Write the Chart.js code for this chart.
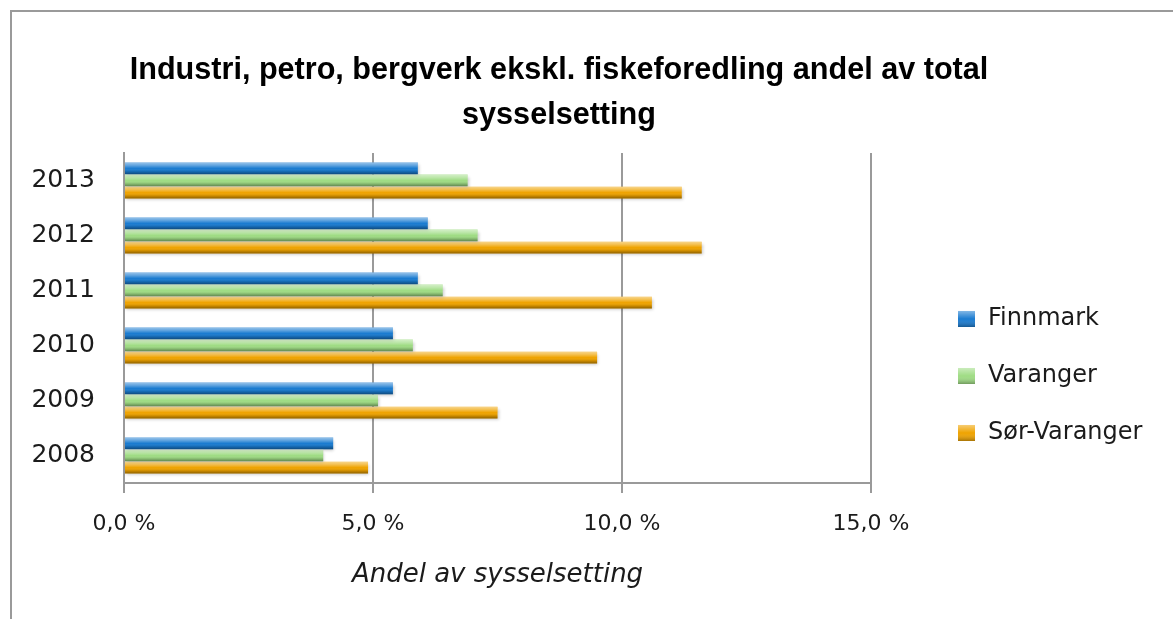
<!DOCTYPE html>
<html>
<head>
<meta charset="utf-8">
<title>Industri andel av sysselsetting</title>
<script src="https://cdn.jsdelivr.net/npm/chart.js@4.4.1/dist/chart.umd.min.js"></script>
<style>
  html, body { margin: 0; padding: 0; background: #fff; }
  #wrap { position: relative; width: 1173px; height: 619px; overflow: hidden; }
  #frame { position: absolute; left: 10px; top: 10px; width: 1300px; height: 700px;
           border-left: 2px solid #9a9a9a; border-top: 2px solid #9a9a9a; }
  canvas { position: absolute; left: 0; top: 0; }
</style>
</head>
<body>
<div id="wrap">
  <div id="frame"></div>
  <canvas id="chartIndustri"></canvas>
</div>
<script>
/* ==================== DATA ==================== */
const years = ["2008", "2009", "2010", "2011", "2012", "2013"];
const finnmark = [4.2, 5.4, 5.4, 5.9, 6.1, 5.9];
const varanger = [4.0, 5.1, 5.8, 6.4, 7.1, 6.9];
const sorVaranger = [4.9, 7.5, 9.5, 10.6, 11.6, 11.2];
const xTicks = [0, 5, 10, 15];
const titleLines = [
  "Industri, petro, bergverk ekskl. fiskeforedling andel av total",
  "sysselsetting",
];
const axisTitle = "Andel av sysselsetting";

const colors = ["#1a7bd0", "#9fdc84", "#efa300"];
const textColor = "#1b1b1b";
const gridColor = "#9a9a9a";

Chart.defaults.font.family = "'DejaVu Sans', Verdana, sans-serif";

/* ==================== PLUGINS ==================== */
// glossy look on the bars + light drop shadow
const barShine = {
  id: "barShine",
  beforeDatasetDraw(chart) {
    const ctx = chart.ctx;
    ctx.save();
    ctx.shadowColor = "rgba(0,0,0,0.22)";
    ctx.shadowBlur = 3;
    ctx.shadowOffsetY = 2;
    ctx.shadowOffsetX = 1;
  },
  afterDatasetDraw(chart) {
    chart.ctx.restore();
  },
  afterDatasetsDraw(chart) {
    const ctx = chart.ctx;
    ctx.save();
    chart.data.datasets.forEach((ds, i) => {
      chart.getDatasetMeta(i).data.forEach((bar) => {
        const top = bar.y - bar.height / 2;
        const h = bar.height;
        const g = ctx.createLinearGradient(0, top, 0, top + h);
        g.addColorStop(0, "rgba(255,255,255,0.55)");
        g.addColorStop(0.25, "rgba(255,255,255,0.3)");
        g.addColorStop(0.5, "rgba(255,255,255,0)");
        g.addColorStop(0.75, "rgba(0,0,0,0.12)");
        g.addColorStop(1, "rgba(0,0,0,0.4)");
        ctx.fillStyle = g;
        ctx.fillRect(bar.base, top, bar.x - bar.base, h);
      });
    });
    ctx.restore();
  },
};

// legend to the right of the plot, like the original
const sideLegend = {
  id: "sideLegend",
  afterDraw(chart) {
    const ctx = chart.ctx;
    const area = chart.chartArea;
    const x0 = area.right + 87;
    const y0 = (area.top + area.bottom) / 2 + 1;
    ctx.save();
    chart.data.datasets.forEach((ds, i) => {
      const y = y0 + i * 57;
      const g = ctx.createLinearGradient(0, y - 8, 0, y + 8);
      g.addColorStop(0, "rgba(255,255,255,0.45)");
      g.addColorStop(0.5, "rgba(255,255,255,0)");
      g.addColorStop(1, "rgba(0,0,0,0.3)");
      ctx.fillStyle = ds.backgroundColor;
      ctx.fillRect(x0, y - 8, 17, 16);
      ctx.fillStyle = g;
      ctx.fillRect(x0, y - 8, 17, 16);
      ctx.fillStyle = textColor;
      ctx.font = "24px 'DejaVu Sans', Verdana, sans-serif";
      ctx.textBaseline = "middle";
      ctx.textAlign = "left";
      ctx.fillText(ds.label, x0 + 30, y);
    });
    ctx.restore();
  },
};

// the title is centred on the whole chart object, not on the plot
const titleShift = {
  id: "titleShift",
  afterLayout(chart) {
    const t = chart.titleBlock;
    t.left = 100;
    t.right = 1018;
  },
};

/* ==================== CHART ==================== */
const ctxBar = document.getElementById("chartIndustri");
new Chart(ctxBar, {
  type: "bar",
  data: {
    labels: years,
    datasets: [
      { label: "Finnmark", data: finnmark, backgroundColor: colors[0] },
      { label: "Varanger", data: varanger, backgroundColor: colors[1] },
      { label: "Sør-Varanger", data: sorVaranger, backgroundColor: colors[2] },
    ],
  },
  options: {
    indexAxis: "y",
    responsive: true,
    maintainAspectRatio: false,
    animation: false,
    categoryPercentage: 0.66,
    barPercentage: 0.97,
    layout: { padding: { left: 0, right: 302, top: 0, bottom: 0 } },
    plugins: {
      legend: { display: false },
      tooltip: { enabled: false },
      title: {
        display: true,
        text: titleLines,
        color: "#000",
        font: { family: "'Liberation Sans', Arial, sans-serif", size: 30.6, weight: "bold", lineHeight: 1.47 },
        padding: { top: 48, bottom: 15 },
      },
    },
    scales: {
      x: {
        type: "linear",
        position: "bottom",
        min: xTicks[0],
        max: xTicks[xTicks.length - 1],
        afterBuildTicks: (scale) => {
          scale.ticks = xTicks.map((v) => ({ value: v }));
        },
        afterFit: (scale) => {
          scale.height = 136;
        },
        ticks: {
          padding: 18,
          color: textColor,
          font: { size: 22 },
          callback: (value) => value.toFixed(1).replace(".", ",") + " %",
        },
        grid: { color: gridColor, lineWidth: 2, drawTicks: true, tickLength: 10, tickColor: gridColor },
        border: { display: true, color: gridColor, width: 2 },
        title: {
          display: true,
          text: axisTitle,
          color: textColor,
          font: { size: 26, style: "italic" },
          padding: { top: 0, bottom: 28 },
        },
      },
      y: {
        type: "category",
        reverse: true,
        afterFit: (scale) => {
          scale.width = 124;
        },
        ticks: { padding: 29, color: textColor, font: { size: 25 } },
        grid: { display: false, drawTicks: false },
        border: { display: true, color: gridColor, width: 2 },
      },
    },
  },
  plugins: [barShine, sideLegend, titleShift],
});
</script>
</body>
</html>
